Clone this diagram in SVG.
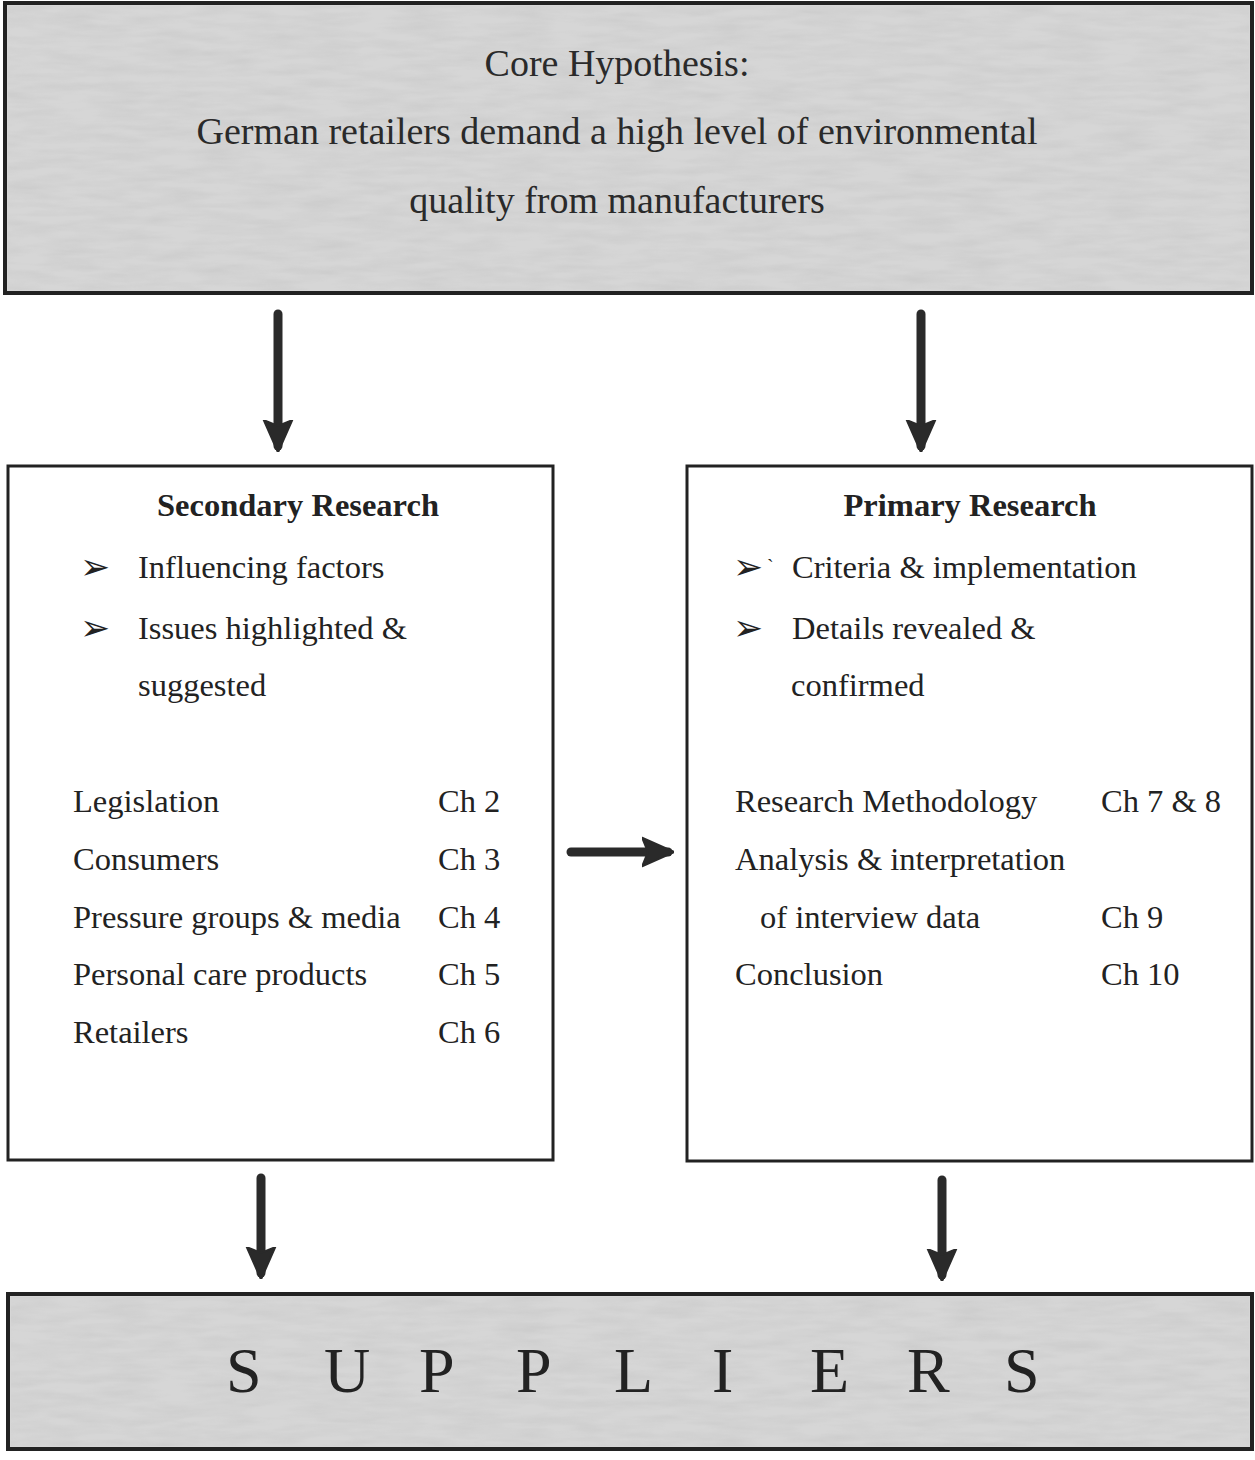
<svg xmlns="http://www.w3.org/2000/svg" width="1255" height="1460" viewBox="0 0 1255 1460">
<style>
.t{font-family:"Liberation Serif","Times New Roman",serif;fill:#222;font-size:32.5px}
.h{font-size:38px;fill:#2a2a2a}
.b{font-weight:bold}
.bul{font-family:"DejaVu Sans",sans-serif;fill:#222;font-size:36px}
.box{fill:#fff;stroke:#222;stroke-width:3}
.gbox{fill:#d6d6d6;stroke:#222;stroke-width:4}
.tex{filter:url(#noise);opacity:0.35}
.ln{stroke:#2a2a2a;stroke-width:9;stroke-linecap:round;fill:none}
</style>
<defs>
<marker id="ah" viewBox="0 0 10 10" refX="8" refY="5" markerWidth="3.6" markerHeight="3.6" orient="auto" markerUnits="strokeWidth">
<path d="M0,0.6 L10,5 L0,9.4 L1.8,5 Z" fill="#2a2a2a" stroke="#2a2a2a" stroke-width="0.6" stroke-linejoin="round"/>
</marker>
<filter id="noise" x="0" y="0" width="100%" height="100%">
<feTurbulence type="fractalNoise" baseFrequency="0.02 0.12" numOctaves="3" seed="4"/>
<feColorMatrix type="matrix" values="0 0 0 0 0.5  0 0 0 0 0.5  0 0 0 0 0.5  0 0 0 -1.6 1.1"/>
</filter>
</defs>
<g id="hypothesis">
<rect class="gbox" x="5" y="3" width="1247" height="290"/>
<rect class="tex" x="8" y="6" width="1241" height="284"/>
<text class="t h" x="617" y="76" text-anchor="middle">Core Hypothesis:</text>
<text class="t h" x="617" y="144" text-anchor="middle">German retailers demand a high level of environmental</text>
<text class="t h" x="617" y="213" text-anchor="middle">quality from manufacturers</text>
</g>
<g id="secondary">
<rect class="box" x="8" y="466" width="545" height="694"/>
<text class="t b" x="298" y="516" text-anchor="middle">Secondary Research</text>
<text class="bul" x="80" y="579">➢</text>
<text class="t" x="138" y="578">Influencing factors</text>
<text class="bul" x="80" y="640">➢</text>
<text class="t" x="138" y="639">Issues highlighted &amp;</text>
<text class="t" x="138" y="696">suggested</text>
<text class="t" x="73" y="812">Legislation</text><text class="t" x="438" y="812">Ch 2</text>
<text class="t" x="73" y="870">Consumers</text><text class="t" x="438" y="870">Ch 3</text>
<text class="t" x="73" y="928">Pressure groups &amp; media</text><text class="t" x="438" y="928">Ch 4</text>
<text class="t" x="73" y="985">Personal care products</text><text class="t" x="438" y="985">Ch 5</text>
<text class="t" x="73" y="1043">Retailers</text><text class="t" x="438" y="1043">Ch 6</text>
</g>
<g id="primary">
<rect class="box" x="687" y="466" width="565" height="695"/>
<text class="t b" x="970" y="516" text-anchor="middle">Primary Research</text>
<text class="bul" x="733" y="579">➢</text>
<text class="t" x="767" y="574" style="font-size:20px">`</text>
<text class="t" x="792" y="578">Criteria &amp; implementation</text>
<text class="bul" x="733" y="640">➢</text>
<text class="t" x="792" y="639">Details revealed &amp;</text>
<text class="t" x="791" y="696">confirmed</text>
<text class="t" x="735" y="812">Research Methodology</text><text class="t" x="1101" y="812">Ch 7 &amp; 8</text>
<text class="t" x="735" y="870">Analysis &amp; interpretation</text>
<text class="t" x="760" y="928">of interview data</text><text class="t" x="1101" y="928">Ch 9</text>
<text class="t" x="735" y="985">Conclusion</text><text class="t" x="1101" y="985">Ch 10</text>
</g>
<g id="suppliers">
<rect class="gbox" x="8" y="1294" width="1244" height="155"/>
<rect class="tex" x="11" y="1297" width="1238" height="149"/>
<text class="t" style="font-size:64px" x="226 324 419 516 614 712 810 907 1004" y="1392">SUPPLIERS</text>
</g>
<g id="connectors">
<line class="ln" x1="278" y1="314" x2="278" y2="446" marker-end="url(#ah)"/>
<line class="ln" x1="921" y1="314" x2="921" y2="446" marker-end="url(#ah)"/>
<line class="ln" x1="571" y1="852" x2="668" y2="852" marker-end="url(#ah)"/>
<line class="ln" x1="261" y1="1178" x2="261" y2="1273" marker-end="url(#ah)"/>
<line class="ln" x1="942" y1="1180" x2="942" y2="1275" marker-end="url(#ah)"/>
</g>
</svg>
